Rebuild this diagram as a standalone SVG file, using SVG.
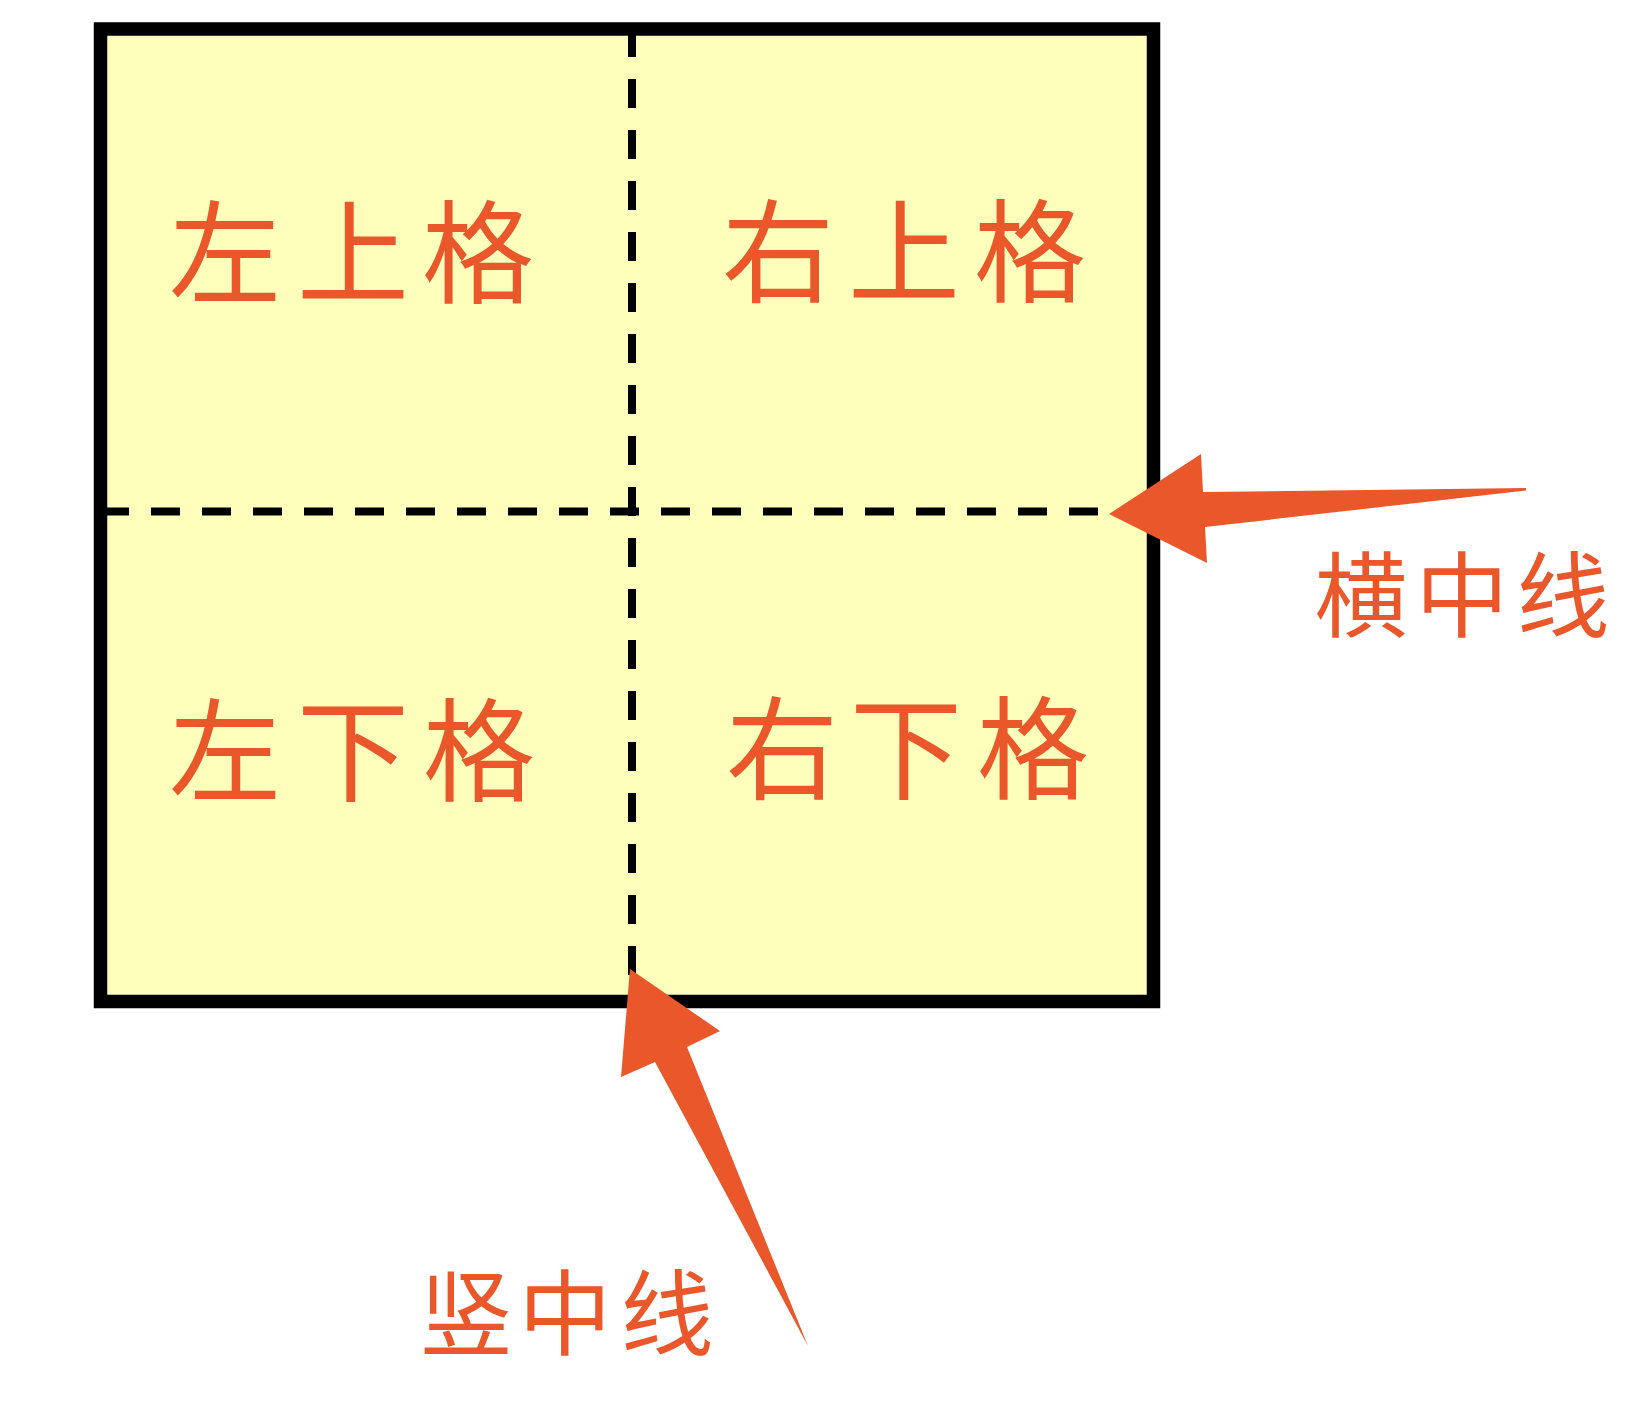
<svg xmlns="http://www.w3.org/2000/svg" width="1628" height="1413" viewBox="0 0 1628 1413">
  <style>
    .frame { fill: #FFFFBC; stroke: #000000; stroke-width: 13.5; }
    .mid { stroke: #000000; stroke-width: 8; stroke-dasharray: 29 22; fill: none; }
    .lbl { fill: #E9572B; font-family: "Noto Sans CJK SC", "Noto Sans CJK TC", sans-serif; text-anchor: middle; dominant-baseline: central; }
    .cell { font-size: 112px; }
    .note { font-size: 93px; }
    .arrow { fill: #E9572B; stroke: none; }
  </style>
  <rect width="1628" height="1413" fill="#FFFFFF"/>
  <g id="grid">
    <rect class="frame" x="100.5" y="29" width="1053" height="972.5"/>
    <line class="mid" x1="632" y1="28" x2="632" y2="1000"/>
    <line class="mid" x1="100" y1="511.5" x2="1153" y2="511.5"/>
  </g>
  <g id="cell-top-left">
    <text class="lbl cell" x="225 353 478" y="246">左上格</text>
  </g>
  <g id="cell-top-right">
    <text class="lbl cell" x="778 904 1030" y="245">右上格</text>
  </g>
  <g id="cell-bottom-left">
    <text class="lbl cell" x="225 353 479" y="744">左下格</text>
  </g>
  <g id="cell-bottom-right">
    <text class="lbl cell" x="782 906 1033" y="742">右下格</text>
  </g>
  <g id="label-horizontal">
    <text class="lbl note" x="1361 1462 1563" y="589">横中线</text>
  </g>
  <g id="label-vertical">
    <text class="lbl note" x="466 565 667" y="1307">竖中线</text>
  </g>
  <g id="connectors">
    <polygon class="arrow" points="1109,514 1201,454 1203,492 1526,488 1526,490.5 1205,527 1207,563"/>
    <polygon class="arrow" points="630,969 720,1031 687,1047 808,1346 655,1062 621,1077"/>
  </g>
</svg>
